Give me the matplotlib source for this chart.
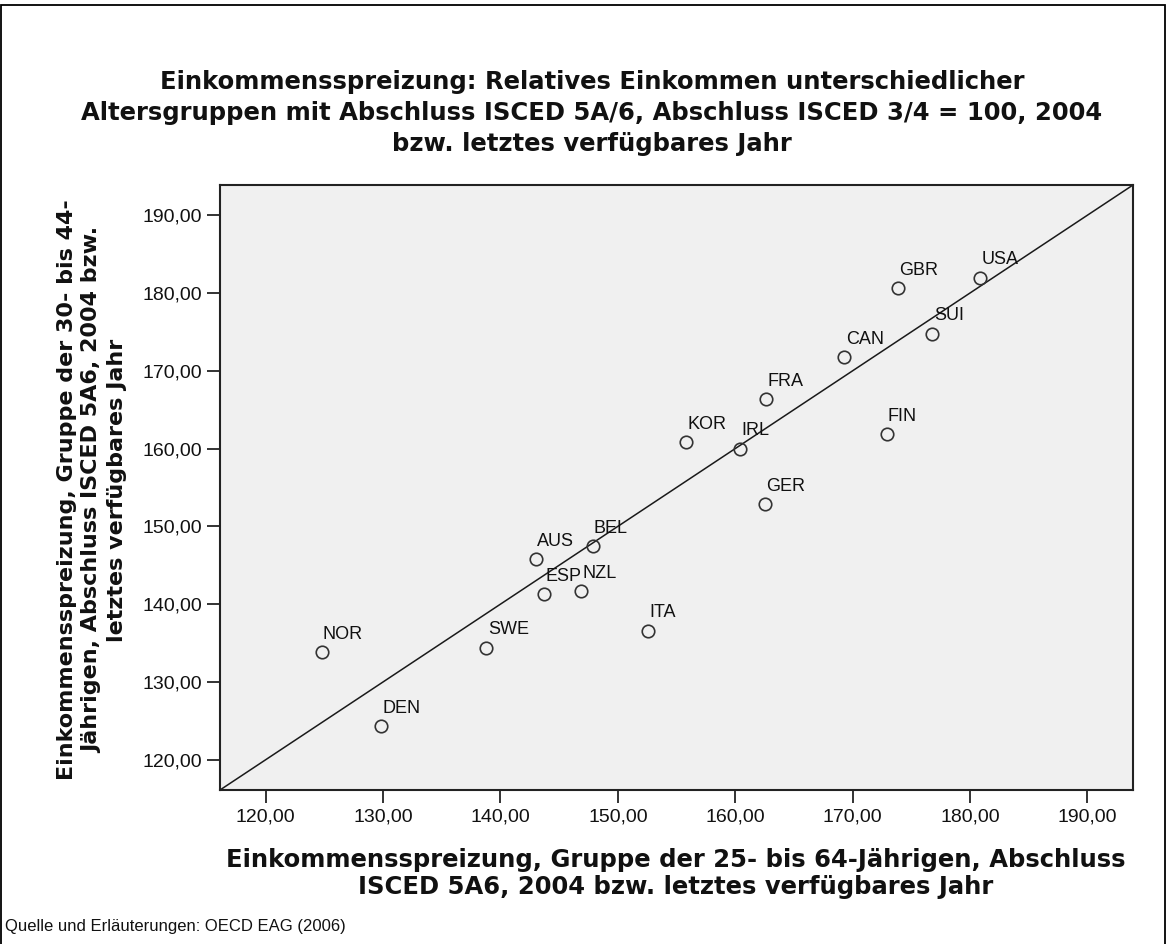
import matplotlib
matplotlib.use('Agg')
import matplotlib.pyplot as plt
from matplotlib.ticker import FuncFormatter
from matplotlib.patches import Rectangle

# ---- data ----
countries = ['NOR', 'DEN', 'SWE', 'ESP', 'AUS', 'NZL', 'BEL', 'ITA', 'KOR',
             'IRL', 'GER', 'FRA', 'CAN', 'FIN', 'GBR', 'SUI', 'USA']
x_vals = [124.75, 129.8, 138.8, 143.7, 143.0, 146.9, 147.85, 152.6, 155.8,
          160.4, 162.5, 162.6, 169.3, 172.9, 173.85, 176.8, 180.9]
y_vals = [133.8, 124.35, 134.4, 141.3, 145.8, 141.7, 147.5, 136.6, 160.8,
          160.0, 152.9, 166.4, 171.8, 161.9, 180.6, 174.8, 182.0]
tick_values = [120, 130, 140, 150, 160, 170, 180, 190]
axis_range = [116.1, 193.9]

title_lines = ["Einkommensspreizung: Relatives Einkommen unterschiedlicher",
               "Altersgruppen mit Abschluss ISCED 5A/6, Abschluss ISCED 3/4 = 100, 2004",
               "bzw. letztes verfügbares Jahr"]
xlabel_lines = ["Einkommensspreizung, Gruppe der 25- bis 64-Jährigen, Abschluss",
                "ISCED 5A6, 2004 bzw. letztes verfügbares Jahr"]
ylabel_lines = ["Einkommensspreizung, Gruppe der 30- bis 44-",
                "Jährigen, Abschluss ISCED 5A6, 2004 bzw.",
                "letztes verfügbares Jahr"]
footer_text = "Quelle und Erläuterungen: OECD EAG (2006)"

plt.rcParams['font.family'] = ['Liberation Sans', 'DejaVu Sans']
BOLD_FAMILY = ['DejaVu Sans']

W, H = 1168, 944
fig = plt.figure(figsize=(W / 100, H / 100), dpi=100)
fig.patch.set_facecolor('white')

ax = fig.add_axes([220 / W, 1 - 790 / H, (1133 - 220) / W, (790 - 185) / H])
ax.set_facecolor('#f0f0f0')
ax.set_xlim(axis_range)
ax.set_ylim(axis_range)

# reference diagonal
ax.plot(axis_range, axis_range, color='#1a1a1a', lw=1.1, zorder=2)
# points
ax.plot(x_vals, y_vals, linestyle='none', marker='o', mfc='none',
        mec='#333333', ms=9, mew=1.2, zorder=3)
for c, x, y in zip(countries, x_vals, y_vals):
    ax.annotate(c, (x, y), xytext=(1.0, 9.5), textcoords='offset points',
                ha='left', va='baseline', fontsize=13, color='#111111')

fmt = FuncFormatter(lambda v, p: f'{v:.2f}'.replace('.', ','))
ax.set_xticks(tick_values)
ax.set_yticks(tick_values)
ax.xaxis.set_major_formatter(fmt)
ax.yaxis.set_major_formatter(fmt)
ax.tick_params(axis='both', direction='out', length=9.5, width=1.2,
               labelsize=14, colors='#111111')
ax.tick_params(axis='x', pad=3.6)
ax.tick_params(axis='y', pad=3.6)
for s in ax.spines.values():
    s.set_linewidth(1.5)
    s.set_color('#222222')

# title (three lines, baselines in pixels)
for line, yb in zip(title_lines, [89, 120, 151]):
    fig.text(592 / W, 1 - yb / H, line, ha='center', va='baseline',
             fontsize=17.5, fontweight='bold', family=BOLD_FAMILY,
             color='#111111')
# x label
for line, yb in zip(xlabel_lines, [867, 894]):
    fig.text(676 / W, 1 - yb / H, line, ha='center', va='baseline',
             fontsize=17.5, fontweight='bold', family=BOLD_FAMILY,
             color='#111111')
# y label
for line, xc in zip(ylabel_lines, [67, 92, 117]):
    fig.text(xc / W, 1 - 490 / H, line, ha='center', va='center',
             rotation=90, fontsize=16, fontweight='bold',
             family=BOLD_FAMILY, color='#111111')

fig.text(5 / W, 1 - 926 / H, footer_text, ha='left', va='center',
         fontsize=12, color='#111111')

fig.patches.append(Rectangle((1 / W, -0.01), (1165 - 1) / W, 1.01 - 5 / H,
                             transform=fig.transFigure, fill=False,
                             edgecolor='black', lw=1.3))

fig.savefig('out.png', dpi=100)
